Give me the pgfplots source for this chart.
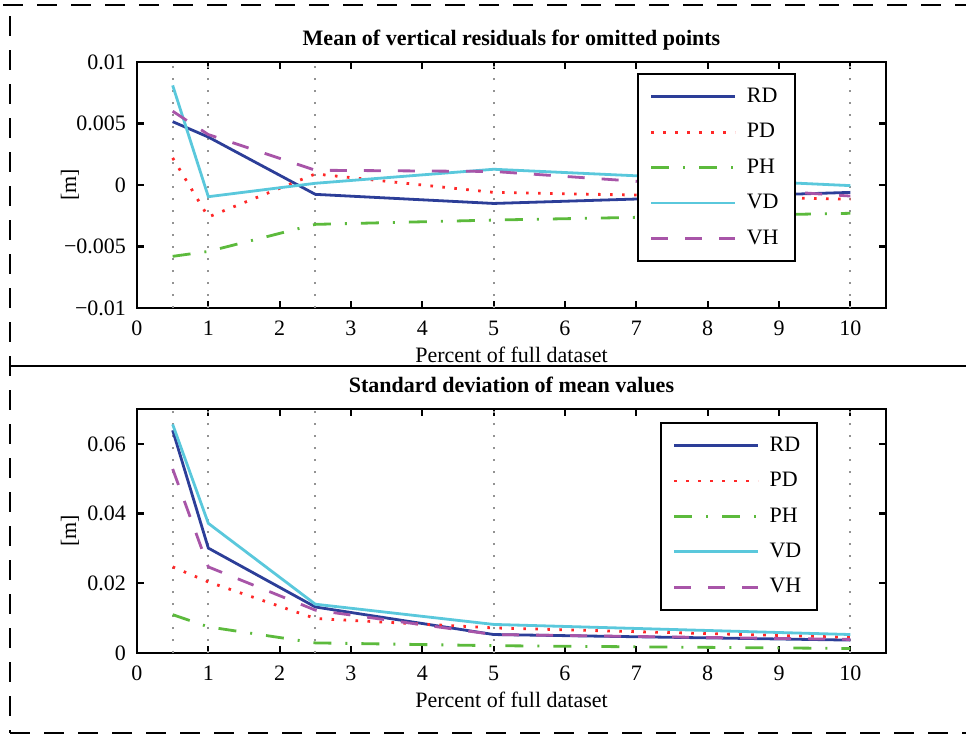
\documentclass[border=0pt]{standalone}
\usepackage{pgfplots}
\pgfplotsset{compat=1.18}
\usepackage{fontspec}
\setmainfont{Liberation Serif}

\definecolor{rdc}{RGB}{44,62,152}
\definecolor{pdc}{RGB}{255,40,40}
\definecolor{phc}{RGB}{92,186,60}
\definecolor{vdc}{RGB}{90,200,220}
\definecolor{vhc}{RGB}{168,85,168}

\pgfplotsset{
  resid/.style={
    scale only axis,
    width=374.5pt,
    xmin=0, xmax=10.5,
    xtick={0,1,...,10},
    scaled y ticks=false,
    xtick pos=both, ytick pos=both,
    xticklabel pos=lower, yticklabel pos=left,
    tick align=inside,
    major tick length=3.5pt,
    every tick/.style={black, line width=1.1pt},
    axis line style={line width=1.3pt},
    /pgf/number format/assume math mode=true,
    tick label style={font=\fontsize{11}{13}\selectfont},
    xticklabel style={yshift=-3pt},
    yticklabel style={xshift=-2pt},
    label style={font=\fontsize{11}{13}\selectfont},
    title style={font=\bfseries\fontsize{11}{13}\selectfont, anchor=base, yshift=2.5pt},
    xlabel style={at={(axis description cs:0.5,0)}, anchor=base, yshift=-27pt},
    ylabel style={at={(axis description cs:0,0.5)}, anchor=center, yshift=33.5pt},
    extra x ticks={0.5,1,2.5,5,10},
    extra x tick labels={},
    extra x tick style={grid=major, major tick length=0pt,
      major grid style={gray!85, line width=0.9pt, dash pattern=on 1pt off 5pt}},
    legend cell align=left,
    legend image code/.code={\draw[#1] (0pt,0pt) -- (42pt,0pt);},
    legend style={font=\fontsize{11}{13}\selectfont, draw=black, line width=1pt,
      anchor=north west, row sep=5pt, column sep=3pt, inner xsep=6pt, inner ysep=5pt},
  },
  rd/.style={rdc, line width=1.4pt, no marks},
  pd/.style={pdc, line width=1.4pt, no marks, dash pattern=on 1.3pt off 4.7pt},
  ph/.style={phc, line width=1.4pt, no marks, dash pattern=on 9pt off 7pt on 1pt off 7pt},
  vd/.style={vdc, line width=1.4pt, no marks},
  vh/.style={vhc, line width=1.4pt, no marks, dash pattern=on 8.5pt off 8.5pt},
}

\begin{document}
\begin{tikzpicture}
\useasboundingbox (0,0) rectangle (483pt,368pt);
% frame
\draw[line width=0.8pt, dash pattern=on 10pt off 7pt] (1.5pt,365.5pt) -- (483pt,365.5pt);
\draw[line width=0.8pt, dash pattern=on 10pt off 7pt] (5pt,1.5pt) -- (483pt,1.5pt);
\draw[line width=0.8pt, dash pattern=on 10pt off 7pt] (5pt,360pt) -- (5pt,1.5pt);
\draw[line width=1.4pt] (5pt,185pt) -- (483pt,185pt);

\begin{axis}[resid,
  at={(68.5pt,214pt)}, anchor=south west,
  height=123pt,
  ymin=-0.01, ymax=0.01,
  ytick={-0.01,-0.005,0,0.005,0.01},
  yticklabels={−0.01,−0.005,0,0.005,0.01},
  title={Mean of vertical residuals for omitted points},
  xlabel={Percent of full dataset},
  ylabel={[m]},
  legend style={at={(0.6676,0.955)}},
]
\addplot[rd] coordinates {(0.5,0.00515) (1,0.0039) (2.5,-0.00076) (5,-0.0015) (10,-0.0006)};
\addplot[pd] coordinates {(0.5,0.0022) (1,-0.0026) (2.5,0.0009) (5,-0.0006) (10,-0.00115)};
\addplot[ph] coordinates {(0.5,-0.0058) (1,-0.0054) (2.5,-0.0032) (5,-0.00285) (10,-0.0023)};
\addplot[vd] coordinates {(0.5,0.0081) (1,-0.00095) (2.5,0.00014) (5,0.00128) (10,-0.00005)};
\addplot[vh] coordinates {(0.5,0.006) (1,0.0041) (2.5,0.0012) (5,0.0011) (10,-0.0009)};
\legend{RD,PD,PH,VD,VH}
\end{axis}

\begin{axis}[resid,
  at={(68.5pt,41.5pt)}, anchor=south west,
  height=122pt,
  ymin=0, ymax=0.07,
  ytick={0,0.02,0.04,0.06},
  yticklabels={0,0.02,0.04,0.06},
  title={Standard deviation of mean values},
  xlabel={Percent of full dataset},
  ylabel={[m]},
  legend style={at={(0.698,0.947)}},
]
\addplot[rd] coordinates {(0.5,0.0639) (1,0.0301) (2.5,0.0132) (5,0.0053) (10,0.0037)};
\addplot[pd] coordinates {(0.5,0.0247) (1,0.0204) (2.5,0.0099) (5,0.0072) (10,0.0045)};
\addplot[ph] coordinates {(0.5,0.011) (1,0.0075) (2.5,0.0029) (5,0.0021) (10,0.0013)};
\addplot[vd] coordinates {(0.5,0.0656) (1,0.0372) (2.5,0.014) (5,0.0082) (10,0.0053)};
\addplot[vh] coordinates {(0.5,0.0528) (1,0.0247) (2.5,0.0123) (5,0.0053) (10,0.0039)};
\legend{RD,PD,PH,VD,VH}
\end{axis}
\end{tikzpicture}
\end{document}
